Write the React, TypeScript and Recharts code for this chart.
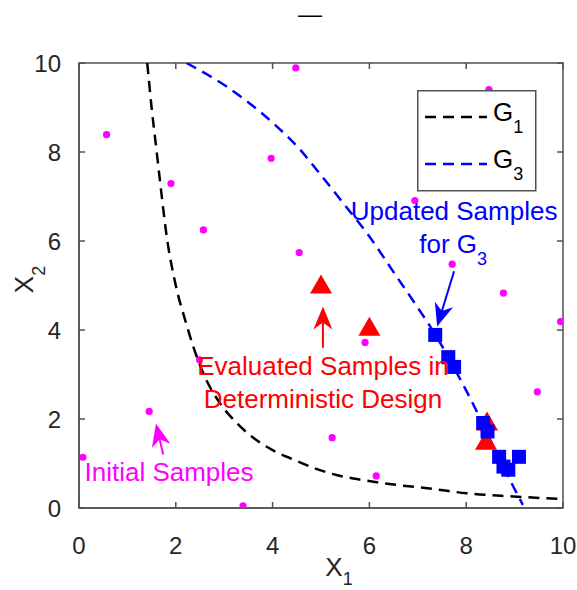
import React from 'react';
import {
  ScatterChart,
  Scatter,
  XAxis,
  YAxis,
  ReferenceLine,
  ReferenceDot,
  ReferenceArea,
  Legend,
  Label,
} from 'recharts';

const FONT = 'Arial, "Liberation Sans", Helvetica, sans-serif';
const AXIS = '#262626';
const BORDER = '#505050';
const MAGENTA = '#FF00FF';
const RED = '#FF0000';
const BLUE = '#0000FF';

// initial samples (magenta dots)
const initialX = [0.57, 1.9, 3.97, 4.48, 2.57, 8.47, 6.94, 4.55, 2.49, 1.45, 7.71, 8.77, 9.95, 5.91, 9.47, 0.08, 3.39, 5.23, 6.14];
const initialY = [8.39, 7.29, 7.86, 9.89, 6.25, 9.4, 6.91, 5.74, 3.33, 2.17, 5.48, 4.83, 4.19, 3.72, 2.61, 1.14, 0.05, 1.58, 0.72];

// evaluated samples in deterministic design (red triangles)
const evalX = [5.0, 6.0, 8.43, 8.41];
const evalY = [5.0, 4.05, 1.92, 1.49];

// updated samples for G3 (blue squares)
const updX = [7.36, 7.63, 7.75, 8.35, 8.44, 8.68, 8.77, 8.87, 9.09];
const updY = [3.89, 3.39, 3.17, 1.91, 1.72, 1.15, 0.93, 0.86, 1.15];

// limit state curves
const g1X = [1.41, 1.5, 1.6, 1.7, 1.8, 2.0, 2.2, 2.36, 2.6, 2.91, 3.26, 3.7, 4.0, 4.43, 4.9, 5.32, 5.74, 6.2, 6.63, 7.3, 8.01, 8.97, 10];
const g1Y = [10, 9.0, 8.05, 7.1, 6.2, 5.0, 4.2, 3.63, 2.95, 2.36, 1.91, 1.5, 1.3, 1.09, 0.88, 0.74, 0.65, 0.57, 0.51, 0.43, 0.33, 0.26, 0.2];
const g3X = [2.22, 3.05, 4.01, 4.57, 4.91, 5.46, 6.0, 6.5, 7.0, 7.36, 7.75, 8.15, 8.6, 8.97, 9.17];
const g3Y = [10, 9.47, 8.65, 8.05, 7.6, 6.85, 6.1, 5.3, 4.5, 3.9, 3.15, 2.32, 1.3, 0.49, 0.07];

const domain = [0, 10];
const ticks = [0, 2, 4, 6, 8, 10];

// annotation texts (data coords of the baseline centre)
const noteText = ['Updated Samples', 'for G', 'Evaluated Samples in', 'Deterministic Design', 'Initial Samples'];
const noteSub = ['', '3', '', '', ''];
const noteX = [7.75, 7.73, 5.04, 5.04, 1.86];
const noteY = [6.48, 5.74, 3.0, 2.25, 0.6];
const noteColor = [BLUE, BLUE, RED, RED, MAGENTA];

// annotation arrows: tail -> tip
const arrowFrom = [{ x: 1.74, y: 1.2 }, { x: 5.04, y: 3.6 }, { x: 7.75, y: 5.32 }];
const arrowTo = [{ x: 1.59, y: 1.9 }, { x: 5.04, y: 4.53 }, { x: 7.4, y: 4.08 }];
const arrowColor = [MAGENTA, RED, BLUE];

const pts = (xs: number[], ys: number[]) => xs.map((x, i) => ({ x, y: ys[i] }));

const DotShape = (p: any) => <circle cx={p.cx} cy={p.cy} r={3.6} fill={MAGENTA} />;
const TriShape = (p: any) => (
  <polygon points={`${p.cx},${p.cy - 11} ${p.cx - 11},${p.cy + 8} ${p.cx + 11},${p.cy + 8}`} fill={RED} />
);
const SqShape = (p: any) => <rect x={p.cx - 7} y={p.cy - 7} width={14} height={14} fill={BLUE} />;
const NoShape = () => <g />;

// axes box with inward ticks on all four edges
const BoxShape = (p: any) => {
  const { x, y, width, height } = p;
  const f = (t: number) => (t - domain[0]) / (domain[1] - domain[0]);
  const sw = 1.5;
  return (
    <g>
      <rect x={x} y={y} width={width} height={height} fill="none" stroke={BORDER} strokeWidth={sw} />
      {ticks.map((t) => {
        const tx = x + width * f(t);
        const ty = y + height * (1 - f(t));
        return (
          <g key={'t' + t}>
            <line x1={tx} x2={tx} y1={y} y2={y + 6} stroke={BORDER} strokeWidth={sw} />
            <line x1={tx} x2={tx} y1={y + height} y2={y + height - 6} stroke={BORDER} strokeWidth={sw} />
            <line x1={x} x2={x + 6} y1={ty} y2={ty} stroke={BORDER} strokeWidth={sw} />
            <line x1={x + width - 6} x2={x + width} y1={ty} y2={ty} stroke={BORDER} strokeWidth={sw} />
          </g>
        );
      })}
    </g>
  );
};

const makeArrow = (color: string) => (p: any) => {
  const { x1, y1, x2, y2 } = p;
  const dx = x2 - x1;
  const dy = y2 - y1;
  const len = Math.hypot(dx, dy) || 1;
  const ux = dx / len;
  const uy = dy / len;
  const nx = -uy;
  const ny = ux;
  const L = 23;
  const W = 9.5;
  const bx = x2 - ux * L;
  const by = y2 - uy * L;
  const mx = x2 - ux * L * 0.7;
  const my = y2 - uy * L * 0.7;
  return (
    <g>
      <line x1={x1} y1={y1} x2={mx} y2={my} stroke={color} strokeWidth={2} />
      <polygon
        points={`${x2},${y2} ${bx + nx * W},${by + ny * W} ${mx},${my} ${bx - nx * W},${by - ny * W}`}
        fill={color}
      />
    </g>
  );
};

const makeNote = (i: number) => (p: any) => (
  <text x={p.cx} y={p.cy} fill={noteColor[i]} fontSize={26} textAnchor="middle" fontFamily={FONT}>
    {noteText[i]}
    {noteSub[i] && (
      <tspan fontSize={18} dy={12}>
        {noteSub[i]}
      </tspan>
    )}
  </text>
);

const LegendBox = (props: any) => {
  const items = (props.payload || []).filter((e: any) => e.type !== 'none');
  return (
    <svg width={120} height={102} style={{ display: 'block' }}>
      <rect x={0.75} y={0.75} width={118} height={100} fill="#fff" stroke={BORDER} strokeWidth={1.5} />
      {items.map((e: any, i: number) => {
        const name = String(e.value);
        return (
          <g key={name}>
            <line x1={8} x2={70} y1={27 + i * 47} y2={27 + i * 47} stroke={e.color} strokeWidth={2.5} strokeDasharray="11 7" />
            <text x={76} y={31 + i * 47} fontSize={26} fill="#000" fontFamily={FONT}>
              {name.slice(0, 1)}
              <tspan fontSize={18} dy={12}>
                {name.slice(1)}
              </tspan>
            </text>
          </g>
        );
      })}
    </svg>
  );
};

const XLabel = (p: any) => {
  const vb = p.viewBox;
  return (
    <text x={vb.x + vb.width / 2 + 18} y={vb.y + 68} fontSize={26} fill={AXIS} textAnchor="middle" fontFamily={FONT}>
      X<tspan fontSize={18} dy={9}>1</tspan>
    </text>
  );
};

const YLabel = (p: any) => {
  const vb = p.viewBox;
  const cx = 33;
  const cy = vb.y + vb.height / 2 - 6;
  return (
    <text x={cx} y={cy} fontSize={26} fill={AXIS} textAnchor="middle" fontFamily={FONT} transform={`rotate(-90 ${cx} ${cy})`}>
      X<tspan fontSize={18} dy={12}>2</tspan>
    </text>
  );
};

export default function App() {
  return (
    <div style={{ position: 'absolute', left: 0, top: 0, width: 577, height: 590, background: '#fff', fontFamily: FONT }}>
      <svg width={577} height={40} style={{ position: 'absolute', left: 0, top: 0 }}>
        <text x={310} y={22} fontSize={24} textAnchor="middle" fill="#000" fontFamily={FONT}>
          —
        </text>
      </svg>
      <ScatterChart width={577} height={590} margin={{ top: 63, right: 14, bottom: 42, left: 29 }}>
        <XAxis
          type="number"
          dataKey="x"
          domain={domain}
          ticks={ticks}
          allowDataOverflow
          height={40}
          axisLine={{ stroke: BORDER, strokeWidth: 1.5 }}
          tickLine={false}
          tickMargin={23}
          tick={{ fill: AXIS, fontSize: 24 }}
        >
          <Label content={XLabel} />
        </XAxis>
        <YAxis
          type="number"
          dataKey="y"
          domain={domain}
          ticks={ticks}
          allowDataOverflow
          width={50}
          axisLine={{ stroke: BORDER, strokeWidth: 1.5 }}
          tickLine={false}
          tickMargin={12}
          tick={{ fill: AXIS, fontSize: 24 }}
        >
          <Label content={YLabel} />
        </YAxis>

        <ReferenceArea x1={domain[0]} x2={domain[1]} y1={domain[0]} y2={domain[1]} ifOverflow="visible" shape={BoxShape} />

        <Scatter name="Initial" data={pts(initialX, initialY)} shape={DotShape} legendType="none" isAnimationActive={false} />
        <Scatter
          name="G1"
          data={pts(g1X, g1Y)}
          fill="#000000"
          line={{ stroke: '#000000', strokeWidth: 2.5, strokeDasharray: '11 7' }}
          lineJointType="monotoneX"
          shape={NoShape}
          legendType="line"
          isAnimationActive={false}
        />
        <Scatter
          name="G3"
          data={pts(g3X, g3Y)}
          fill={BLUE}
          line={{ stroke: BLUE, strokeWidth: 2.5, strokeDasharray: '11 7' }}
          lineJointType="monotone"
          shape={NoShape}
          legendType="line"
          isAnimationActive={false}
        />
        <Scatter name="Evaluated" data={pts(evalX, evalY)} shape={TriShape} legendType="none" isAnimationActive={false} />
        <Scatter name="Updated" data={pts(updX, updY)} shape={SqShape} legendType="none" isAnimationActive={false} />

        {arrowFrom.map((a, i) => (
          <ReferenceLine key={'a' + i} segment={[a, arrowTo[i]]} shape={makeArrow(arrowColor[i])} />
        ))}
        {noteText.map((t, i) => (
          <ReferenceDot key={'n' + i} x={noteX[i]} y={noteY[i]} r={1} shape={makeNote(i)} />
        ))}

        <Legend
          layout="vertical"
          align="center"
          verticalAlign="middle"
          content={LegendBox}
          wrapperStyle={{ position: 'absolute', left: 417, top: 90, width: 120, height: 102 }}
        />
      </ScatterChart>
    </div>
  );
}
